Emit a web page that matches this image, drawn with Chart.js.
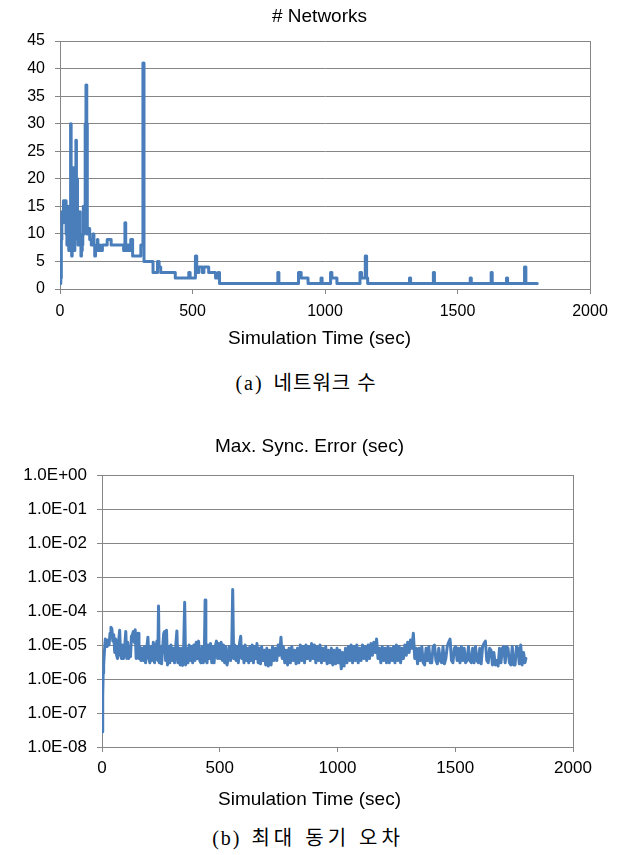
<!DOCTYPE html>
<html>
<head>
<meta charset="utf-8">
<script src="https://cdn.jsdelivr.net/npm/chart.js@4/dist/chart.umd.min.js"></script>
<style>
  body { margin: 0; background: #fff; width: 619px; height: 855px; position: relative; overflow: hidden; }
  canvas { position: absolute; }
  .caption {
    position: absolute;
    font-family: "Liberation Serif", "Noto Sans CJK KR", serif;
    font-size: 20px;
    line-height: 22px;
    color: #000;
    text-align: center;
    white-space: pre;
  }
  .caption .lbl { letter-spacing: 2px; }
  .caption .ko { letter-spacing: 1px; }
  #capB .ko { letter-spacing: 4px; }
</style>
</head>
<body>
<canvas id="netChart" width="599" height="354" style="left:20px; top:0px;"></canvas>
<div class="caption" id="capA" style="left:0; width:612px; top:372px;"><span class="lbl">(a)</span>  <span class="ko">네트워크 수</span></div>
<canvas id="syncChart" width="619" height="395" style="left:0px; top:420px;"></canvas>
<div class="caption" id="capB" style="left:0; width:616px; top:827px;"><span class="lbl">(b)</span>  <span class="ko">최대 동기 오차</span></div>
<script>
// (a) number of networks, value holds from each time until the next one
const netTimes = [
  0, 3, 5, 7, 11, 13, 20, 23, 26, 28, 31, 33, 36, 38, 40, 42, 44, 46, 48, 50,
  52, 54, 56, 58, 60, 62, 64, 66, 68, 70, 72, 74, 76, 79, 81, 84, 86, 88, 90, 92,
  95, 98, 101, 103, 107, 112, 118, 124, 128, 131, 134, 137, 141, 143, 147, 151, 160, 178, 193, 240,
  245, 248, 256, 262, 267, 274, 305, 313, 317, 351, 368, 374, 380, 435, 486, 491, 511, 516, 524, 537,
  543, 561, 587, 597, 602, 822, 826, 900, 910, 936, 985, 989, 1021, 1026, 1045, 1132, 1138, 1152, 1157, 1161,
  1319, 1323, 1409, 1413, 1548, 1552, 1627, 1631, 1685, 1689, 1753, 1758, 1801
];
const netCounts = [
  1, 2, 9, 14, 12, 16, 16, 10, 8, 15, 9, 7, 12, 8, 30, 10, 6, 9, 13, 22,
  12, 7, 17, 10, 27, 12, 20, 9, 8, 13, 9, 14, 10, 6, 7, 8, 10, 15, 10, 11,
  30, 37, 30, 10, 11, 9, 8, 10, 8, 6, 7, 8, 9, 7, 8, 7, 8, 9, 8, 7,
  12, 7, 8, 7, 9, 6, 8, 41, 5, 3, 5, 4, 3, 2, 3, 2, 6, 3, 4, 3,
  4, 3, 2, 3, 1, 3, 1, 3, 2, 1, 2, 1, 3, 2, 1, 3, 2, 6, 2, 1,
  2, 1, 3, 1, 2, 1, 3, 1, 2, 1, 4, 1, 1
];

// (b) max sync error (sec)
const syncTimes = [
  1, 3, 5, 7, 10, 14, 18, 22, 26, 30, 34, 38, 42, 46, 50, 54, 58, 62, 66, 70,
  75, 79, 83, 87, 91, 96, 101, 105, 109, 113, 117, 121, 125, 129, 133, 137, 141, 145, 149, 153,
  157, 161, 165, 170, 175, 180, 185, 190, 195, 199, 203, 208, 213, 218, 223, 228, 233, 237, 240, 243,
  248, 253, 258, 262, 266, 270, 274, 278, 283, 288, 293, 298, 303, 308, 313, 318, 322, 327, 332, 337,
  342, 347, 351, 355, 360, 365, 370, 375, 380, 385, 390, 395, 400, 405, 410, 415, 420, 425, 430, 435,
  438, 441, 446, 451, 456, 461, 466, 471, 476, 481, 486, 491, 496, 501, 506, 511, 516, 521, 526, 531,
  536, 541, 546, 551, 555, 559, 564, 569, 574, 579, 584, 589, 593, 598, 603, 608, 613, 618, 623, 628,
  633, 638, 643, 648, 653, 658, 663, 668, 673, 678, 684, 690, 695, 700, 706, 712, 718, 724, 730, 736,
  742, 748, 754, 760, 765, 770, 776, 782, 788, 794, 800, 806, 812, 818, 824, 830, 836, 842, 848, 854,
  860, 866, 872, 878, 884, 890, 896, 902, 908, 914, 920, 926, 932, 938, 944, 950, 956, 962, 968, 974,
  980, 986, 992, 998, 1004, 1010, 1016, 1022, 1028, 1034, 1040, 1046, 1052, 1058, 1064, 1070, 1076, 1082, 1088, 1094,
  1100, 1106, 1112, 1118, 1124, 1130, 1136, 1142, 1148, 1154, 1160, 1166, 1172, 1178, 1184, 1190, 1196, 1202, 1208, 1214,
  1220, 1226, 1232, 1238, 1244, 1250, 1256, 1262, 1268, 1274, 1280, 1286, 1292, 1298, 1304, 1310, 1316, 1322, 1328, 1334,
  1340, 1346, 1352, 1358, 1364, 1370, 1376, 1382, 1388, 1394, 1400, 1406, 1412, 1418, 1424, 1430, 1436, 1442, 1448, 1454,
  1460, 1466, 1472, 1478, 1484, 1490, 1496, 1502, 1508, 1514, 1520, 1526, 1532, 1538, 1544, 1550, 1556, 1562, 1568, 1574,
  1580, 1586, 1592, 1598, 1604, 1610, 1616, 1622, 1628, 1634, 1640, 1646, 1652, 1658, 1664, 1670, 1676, 1682, 1688, 1694,
  1700, 1706, 1712, 1718, 1724, 1730, 1736, 1742, 1748, 1754, 1760, 1766, 1772, 1778, 1784, 1790, 1796, 1800
];
const syncErrors = [
  2.8e-8, 3e-7, 1.5e-6, 2.5e-6, 6e-6, 1.5e-5, 1.3e-5, 9e-6, 1.4e-5, 1e-5, 2.2e-5, 3.3e-5, 3e-5, 1.3e-5, 2e-5, 6e-6, 1.5e-5, 5e-6, 4e-6, 1.2e-5,
  2.7e-5, 5e-6, 4e-6, 1e-5, 4e-6, 8e-6, 2.5e-5, 4e-6, 1.2e-5, 4e-6, 9e-6, 4.5e-6, 1.8e-5, 2e-5, 2.5e-5, 1.2e-5, 2.8e-5, 4e-6, 1e-5, 2.2e-5,
  4e-6, 9e-6, 3.5e-6, 8e-6, 3.5e-6, 9e-6, 3e-6, 8e-6, 1.7e-5, 4e-6, 3e-6, 9e-6, 3.5e-6, 1.2e-5, 3e-6, 8e-6, 1.3e-5, 3.5e-6, 1.4e-4, 3e-6,
  9e-6, 2.8e-6, 9e-6, 2.2e-5, 2.5e-5, 3.5e-6, 2.7e-5, 2.6e-6, 9e-6, 3e-6, 1e-5, 3.5e-6, 8e-6, 3e-6, 9e-6, 2.6e-5, 3e-6, 8e-6, 2.6e-6, 8e-6,
  2.5e-6, 9e-6, 1.8e-4, 2.6e-6, 8e-6, 3e-6, 1e-5, 3.5e-6, 9e-6, 3e-6, 1e-5, 3.5e-6, 1.2e-5, 4e-6, 1.3e-5, 3.5e-6, 3e-6, 9e-6, 3e-6, 9e-6,
  2.1e-4, 3.5e-6, 3e-6, 1e-5, 4e-6, 1.1e-5, 3e-6, 9e-6, 3e-6, 9e-6, 1.3e-5, 4e-6, 1.1e-5, 4e-6, 1.2e-5, 3.5e-6, 1e-5, 3e-6, 9e-6, 2.6e-6,
  4e-6, 9e-6, 3.5e-6, 8e-6, 4.3e-4, 4e-6, 1e-5, 3.5e-6, 9e-6, 3e-6, 1.1e-5, 1.8e-5, 4e-6, 9e-6, 3e-6, 1e-5, 3.5e-6, 8e-6, 3e-6, 9e-6,
  3.5e-6, 1e-5, 3e-6, 9e-6, 4e-6, 1.1e-5, 3e-6, 8e-6, 2.8e-6, 9e-6, 3.5e-6, 7e-6, 2.6e-6, 8e-6, 2.4e-6, 7e-6, 2.6e-6, 9e-6, 3.5e-6, 8e-6,
  3.5e-6, 1e-5, 5e-6, 1.7e-5, 4e-6, 9e-6, 3e-6, 7e-6, 2.6e-6, 8e-6, 3e-6, 9e-6, 3.5e-6, 7e-6, 2.8e-6, 8e-6, 3e-6, 1e-5, 3.5e-6, 9e-6,
  3e-6, 1e-5, 4e-6, 9e-6, 3.5e-6, 1.1e-5, 4e-6, 1e-5, 3e-6, 9e-6, 3.5e-6, 1e-5, 3e-6, 8e-6, 3.5e-6, 9e-6, 2.8e-6, 7e-6, 3e-6, 8e-6,
  2.6e-6, 7e-6, 2.8e-6, 8e-6, 3e-6, 7e-6, 2e-6, 6e-6, 2.4e-6, 8e-6, 3e-6, 9e-6, 3.5e-6, 1e-5, 3e-6, 9e-6, 3.5e-6, 1e-5, 3e-6, 8e-6,
  3.5e-6, 1e-5, 4e-6, 9e-6, 3.5e-6, 1e-5, 4e-6, 1.1e-5, 5e-6, 1.2e-5, 6e-6, 1.5e-5, 4e-6, 8e-6, 3e-6, 9e-6, 3.5e-6, 8e-6, 3e-6, 9e-6,
  3e-6, 8e-6, 3.5e-6, 9e-6, 3e-6, 1e-5, 3.5e-6, 9e-6, 3e-6, 8e-6, 4e-6, 1e-5, 5e-6, 1.2e-5, 6e-6, 1.4e-5, 8e-6, 2.2e-5, 4e-6, 8e-6,
  2.8e-6, 8e-6, 3.5e-6, 9e-6, 3e-6, 2.6e-6, 8e-6, 3.5e-6, 9e-6, 3e-6, 3e-6, 9e-6, 1e-5, 3.5e-6, 2.8e-6, 8e-6, 3.5e-6, 3e-6, 9e-6, 2.8e-6,
  4e-6, 9e-6, 1.2e-5, 1.5e-5, 3.5e-6, 3e-6, 8e-6, 9e-6, 3.5e-6, 8e-6, 3e-6, 9e-6, 3.5e-6, 8e-6, 3e-6, 3.5e-6, 9e-6, 3.5e-6, 3e-6, 8e-6,
  3e-6, 9e-6, 3.5e-6, 3e-6, 8e-6, 2.8e-6, 9e-6, 1.1e-5, 1.3e-5, 3.5e-6, 3e-6, 8e-6, 7e-6, 2.6e-6, 6e-6, 2.6e-6, 3.5e-6, 2.4e-6, 8e-6, 3e-6,
  8e-6, 9e-6, 3e-6, 9e-6, 8e-6, 3e-6, 2.6e-6, 9e-6, 2.6e-6, 2.6e-6, 9e-6, 8e-6, 2.8e-6, 1e-5, 2.6e-6, 6e-6, 3e-6, 4e-6
];

// axis ticks
const timeTicks = [0, 500, 1000, 1500, 2000];
const netTicks = [0, 5, 10, 15, 20, 25, 30, 35, 40, 45];
const errorExponents = [-8, -7, -6, -5, -4, -3, -2, -1, 0];

const BLUE = '#4a7ebb';
const GRID = '#868686';
const FONT = '"Liberation Sans", Arial, sans-serif';

function toPoints(xs, ys) {
  return xs.map((x, i) => ({ x: x, y: ys[i] }));
}

function timeAxis(tickSize, tickPad) {
  return {
    type: 'linear',
    min: timeTicks[0],
    max: timeTicks[timeTicks.length - 1],
    afterBuildTicks: (s) => { s.ticks = timeTicks.map(v => ({ value: v })); },
    afterFit: (s) => { s.height = 30; },
    grid: {
      // only the right frame line is drawn inside the plot
      color: (ctx) => (ctx.tick && ctx.tick.value === 2000 ? GRID : 'rgba(0,0,0,0)'),
      tickColor: GRID,
      tickLength: 5,
      lineWidth: 1
    },
    border: { color: GRID, width: 1 },
    ticks: {
      color: '#000', padding: tickPad, maxRotation: 0,
      font: { family: FONT, size: tickSize },
      callback: (v) => String(v)
    }
  };
}

// empty axis on the right, only to reserve space so the titles stay centred on the canvas
function spacerAxis(w) {
  return {
    axis: 'y', position: 'right', display: true,
    grid: { display: false }, border: { display: false }, ticks: { display: false },
    afterFit: (s) => { s.width = w; }
  };
}

new Chart(document.getElementById('netChart'), {
  type: 'line',
  data: {
    datasets: [{
      data: toPoints(netTimes, netCounts),
      borderColor: BLUE,
      borderWidth: 3,
      pointRadius: 0,
      stepped: true,
      borderJoinStyle: 'round',
      borderCapStyle: 'round'
    }]
  },
  options: {
    responsive: false,
    animation: false,
    devicePixelRatio: 1,
    layout: { padding: 0 },
    plugins: {
      legend: { display: false },
      tooltip: { enabled: false },
      title: {
        display: true,
        text: '# Networks',
        color: '#000',
        font: { family: FONT, size: 19, weight: 'normal', lineHeight: 1.2 },
        padding: { top: 5.6, bottom: 12.6 }
      },
      subtitle: {
        display: true,
        position: 'bottom',
        text: 'Simulation Time (sec)',
        color: '#000',
        font: { family: FONT, size: 19, weight: 'normal', lineHeight: 1.2 },
        padding: { top: 8.6, bottom: 3.6 }
      }
    },
    scales: {
      x: timeAxis(16, 8),
      y: {
        min: netTicks[0],
        max: netTicks[netTicks.length - 1],
        afterBuildTicks: (s) => { s.ticks = netTicks.map(v => ({ value: v })); },
        afterFit: (s) => { s.width = 40; },
        grid: { color: GRID, tickColor: GRID, tickLength: 5, lineWidth: 1 },
        border: { color: GRID, width: 1 },
        ticks: { color: '#000', padding: 10, font: { family: FONT, size: 16 } }
      },
      pad: spacerAxis(29)
    }
  }
});

new Chart(document.getElementById('syncChart'), {
  type: 'line',
  data: {
    datasets: [{
      data: toPoints(syncTimes, syncErrors),
      borderColor: BLUE,
      borderWidth: 3,
      pointRadius: 0,
      tension: 0,
      borderJoinStyle: 'round',
      borderCapStyle: 'round'
    }]
  },
  options: {
    responsive: false,
    animation: false,
    devicePixelRatio: 1,
    layout: { padding: 0 },
    plugins: {
      legend: { display: false },
      tooltip: { enabled: false },
      title: {
        display: true,
        text: 'Max. Sync. Error (sec)',
        color: '#000',
        font: { family: FONT, size: 19, weight: 'normal', lineHeight: 1.2 },
        padding: { top: 15.6, bottom: 16.6 }
      },
      subtitle: {
        display: true,
        position: 'bottom',
        text: 'Simulation Time (sec)',
        color: '#000',
        font: { family: FONT, size: 19, weight: 'normal', lineHeight: 1.2 },
        padding: { top: 11.6, bottom: 3.6 }
      }
    },
    scales: {
      x: timeAxis(17, 6),
      y: {
        type: 'logarithmic',
        min: Math.pow(10, errorExponents[0]),
        max: Math.pow(10, errorExponents[errorExponents.length - 1]),
        afterBuildTicks: (s) => { s.ticks = errorExponents.map(e => ({ value: Math.pow(10, e) })); },
        afterFit: (s) => { s.width = 102; },
        grid: { color: GRID, tickColor: GRID, tickLength: 5, lineWidth: 1 },
        border: { color: GRID, width: 1 },
        ticks: {
          color: '#000',
          padding: 10,
          font: { family: FONT, size: 17 },
          callback: (value) => {
            const e = Math.round(Math.log10(value));
            const a = Math.abs(e);
            return '1.0E' + (e < 0 ? '-' : '+') + (a < 10 ? '0' : '') + a;
          }
        }
      },
      pad: spacerAxis(46)
    }
  }
});
</script>
</body>
</html>
